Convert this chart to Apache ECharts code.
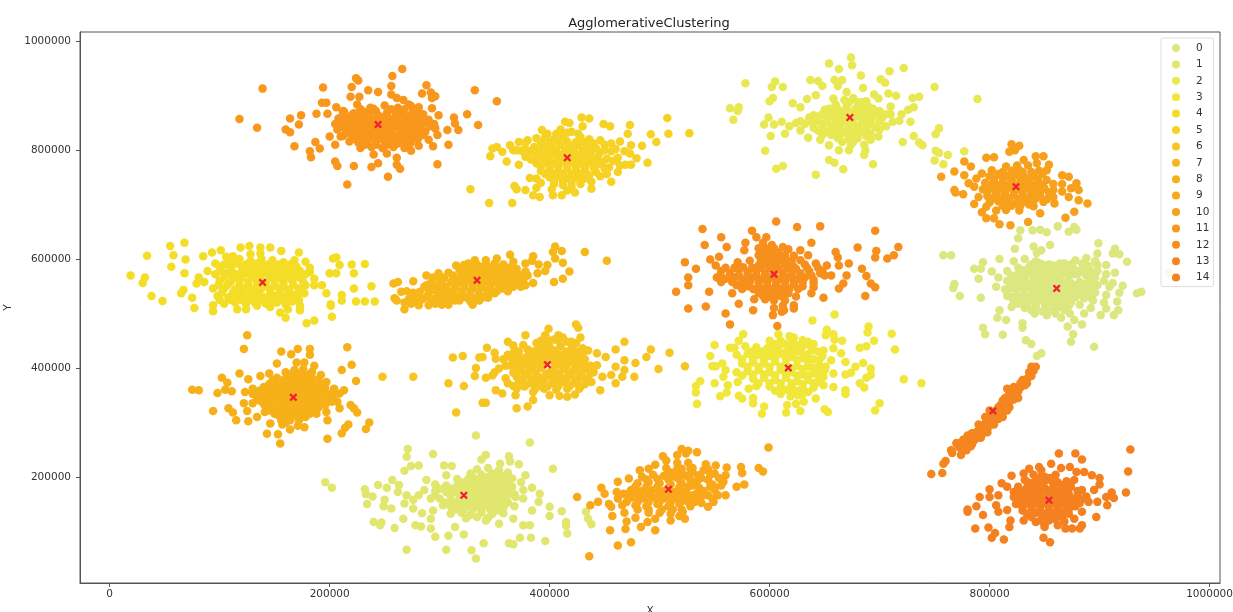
<!DOCTYPE html>
<html><head><meta charset="utf-8">
<script src="https://cdn.jsdelivr.net/npm/echarts@6/dist/echarts.min.js"></script>
<style>html,body{margin:0;padding:0;background:#fff}#c{width:1233px;height:612px}</style></head>
<body><div id="c"></div>
<script>
const cluster0=[[826,638],[828,653],[839,653],[846,654],[852,649],[862,660],[877,659],[872,650],[879,654],[823,619],[840,623],[855,626],[843,611],[847,616],[899,629],[898,610],[914,619],[912,610],[918,609],[925,595],[758,607],[765,607],[809,600],[794,594],[786,582],[792,582],[802,577],[790,564],[808,566],[806,549],[768,554],[767,547],[773,532],[792,529],[934,537],[938,540],[921,551],[909,549],[914,575],[906,589],[898,589],[890,587],[963,575],[809,506],[807,492],[815,488],[794,474],[796,462],[812,461],[830,482],[830,474],[833,451],[838,444],[847,427],[843,422],[871,476],[876,462],[874,448],[895,439],[884,480],[877,488],[865,492],[913,497],[917,506],[901,497],[906,509],[852,497],[841,500],[820,512],[873,500],
[822,596],[832,600],[842,596],[878,598],[888,602],[896,596],[868,592],[858,588],[848,590],[836,586],[826,584],[816,578],[826,572],[836,574],[846,578],[856,576],[866,580],[876,584],[886,584],[898,578],[906,572],[816,560],[824,558],[832,562],[840,564],[848,566],[856,564],[864,568],[872,570],[880,572],[888,570],[896,566],[904,560],[818,546],[826,548],[834,550],[842,552],[850,554],[858,552],[866,554],[874,556],[882,558],[890,556],[898,552],[912,556],[816,532],[824,534],[832,536],[840,538],[848,540],[856,538],[864,540],[872,542],[880,544],[888,542],[896,538],[906,534],[918,538],[822,520],[830,522],[838,524],[846,526],[854,524],[862,526],[870,528],[878,530],[886,528],[894,524],[904,520],[916,522],[832,510],[842,512],[852,510],[862,512],[872,514],[882,516],[892,510],[860,500],[886,500]];
const core0=[[838,590],[846,592],[854,590],[864,592],[874,590],[884,592],[830,580],[841,582],[851,580],[861,582],[871,580],[881,578],[891,580],[820,570],[830,568],[842,570],[851,572],[860,570],[869,574],[877,572],[885,576],[893,570],[822,554],[830,556],[838,554],[846,556],[854,558],[862,556],[870,558],[878,552],[886,554],[894,556],[814,544],[822,546],[830,544],[838,546],[846,544],[854,546],[862,544],[870,546],[878,538],[886,548],[893,546],[820,530],[828,528],[836,530],[844,532],[852,530],[860,532],[868,534],[876,536],[884,534],[892,530],[826,518],[834,516],[842,518],[850,518],[858,520],[866,518],[874,520],[838,506],[848,504],[858,506],[868,506]];
const cluster1=[[333,276],[382,263],[271,251],[270,237],[294,242],[342,240],[363,238],[338,232],[364,228],[355,224],[372,223],[403,215],[304,221],[311,220],[281,221],[274,220],[268,211],[196,190],[202,180],[232,177],[233,168],[239,164],[244,185],[252,180],[257,194],[263,185],[234,150],[249,146],[256,142],[240,117],[246,111],[247,116],[259,106],[267,123],[278,111],[283,109],[268,151],[276,142],[284,133],[292,123],[292,105],[296,90],[270,66],[306,66],[329,65],[333,50],[340,78],[363,78],[367,76],[373,88],[383,88],[396,82],[416,96],[382,111],[376,111],[367,123],[354,114],[342,120],[322,94],[314,108],[308,92],[400,145],[400,128],[411,137],[415,117],[415,110],[433,136],[435,123],[438,113],[391,169],[390,154],[384,138],[384,180],[378,203],[366,197],[366,182],[369,163],[357,154],[358,133],[303,148],[306,203],[288,194],[281,166],[270,166],
[334,214],[344,216],[354,212],[362,208],[328,206],[338,204],[348,206],[356,202],[316,196],[326,196],[334,194],[342,196],[350,194],[358,192],[296,186],[306,184],[316,184],[324,186],[332,184],[340,182],[348,184],[356,182],[362,176],[286,176],[296,174],[306,172],[314,172],[324,174],[332,172],[340,170],[348,172],[356,170],[364,168],[292,160],[300,160],[310,158],[318,160],[326,160],[334,158],[342,160],[350,158],[358,160],[310,146],[318,146],[326,148],[334,146],[342,148],[350,146],[358,144],[368,146],[276,158],[262,172],[250,158],[310,132],[320,134],[328,130],[338,134],[348,132],[294,138],[376,160],[376,176],[374,190]];
const core1=[[330,200],[344,200],[352,200],[360,198],[322,190],[330,190],[338,190],[346,190],[354,188],[362,190],[300,178],[311,178],[319,178],[328,178],[336,178],[344,178],[352,176],[360,178],[296,166],[310,166],[319,166],[328,166],[336,166],[344,164],[352,166],[360,164],[368,168],[304,153],[314,152],[322,153],[330,153],[338,153],[346,153],[354,152],[362,153],[314,140],[322,140],[330,140],[338,140],[346,140],[354,138],[324,124],[334,126],[344,125]];
const cluster2=[[674,970],[654,959],[675,956],[663,949],[683,937],[709,945],[722,951],[578,923],[605,926],[602,916],[612,916],[637,929],[644,927],[648,918],[659,929],[666,929],[662,918],[701,930],[705,924],[750,916],[789,894],[564,877],[572,879],[571,872],[567,856],[603,896],[600,890],[634,894],[595,847],[599,860],[604,847],[611,852],[618,844],[601,826],[614,830],[596,799],[606,766],[612,771],[642,755],[654,782],[659,777],[667,765],[694,774],[686,791],[687,800],[672,800],[663,800],[654,809],[646,819],[635,823],[721,815],[731,826],[736,814],[739,809],[751,829],[754,840],[751,799],[754,795],[762,791],[777,798],[750,781],[758,774],[736,898],[730,896],[715,900],[708,904],[699,895],[731,879],[726,874],[728,852],[718,854],[706,844],[699,825],[692,819],[621,886],[628,879],[642,901],[658,895],[670,907],[685,914],[695,902],
[668,892],[676,896],[684,888],[660,884],[670,880],[680,878],[690,880],[650,874],[658,872],[666,870],[674,868],[682,870],[690,868],[700,872],[710,880],[720,866],[636,860],[644,862],[652,860],[660,858],[668,860],[676,856],[684,858],[692,856],[702,858],[624,850],[632,848],[640,850],[648,848],[656,846],[664,848],[672,846],[680,844],[688,846],[696,842],[644,836],[652,834],[660,836],[668,834],[676,832],[684,834],[692,830],[672,820],[680,822],[662,822],[686,810],[674,810],[628,836],[710,866]];
const core2=[[654,876],[662,876],[670,874],[678,876],[686,876],[694,876],[640,864],[648,866],[656,864],[664,864],[672,862],[680,864],[688,862],[696,864],[706,866],[628,853],[636,853],[644,854],[652,853],[660,852],[668,852],[676,850],[684,852],[692,850],[700,852],[712,852],[640,841],[648,841],[656,840],[664,841],[672,840],[680,838],[688,840],[700,838],[648,828],[656,828],[664,828],[672,826],[680,828],[688,826],[666,815],[676,815],[672,888],[680,888],[688,890]];
const cluster3=[[639,487],[659,498],[576,462],[572,450],[622,456],[652,470],[651,460],[658,462],[659,452],[666,450],[690,476],[689,465],[695,450],[711,463],[714,434],[682,437],[688,440],[658,436],[649,432],[630,451],[635,448],[550,442],[564,437],[568,437],[546,422],[548,403],[551,403],[557,408],[560,396],[558,384],[537,376],[533,367],[533,355],[550,372],[562,368],[561,355],[555,348],[571,374],[581,362],[588,367],[572,349],[575,344],[585,345],[585,335],[534,334],[595,329],[593,316],[616,332],[615,318],[624,334],[628,321],[631,338],[626,350],[619,348],[642,344],[650,324],[653,319],[669,359],[669,352],[658,365],[649,368],[686,364],[682,372],[692,387],[692,399],[685,409],[678,402],[669,388],[674,391],[688,382],[722,379],[738,372],[700,335],[696,322],[665,427],[669,411],[656,414],[651,402],[658,390],[649,384],[642,372],
[608,462],[618,458],[600,450],[610,450],[620,446],[630,440],[640,444],[578,440],[588,438],[598,436],[608,438],[618,434],[628,430],[638,432],[648,422],[570,424],[580,426],[590,424],[600,422],[610,426],[620,420],[630,418],[640,416],[575,408],[585,410],[595,408],[605,412],[615,406],[625,404],[635,402],[645,406],[570,392],[580,394],[590,396],[600,392],[610,396],[620,392],[630,388],[640,390],[585,380],[595,382],[605,378],[615,382],[625,376],[635,378],[645,380],[600,366],[610,364],[620,366],[630,362],[640,364],[610,352],[620,356],[630,352]];
const core3=[[604,444],[614,444],[624,442],[634,444],[584,430],[594,430],[604,430],[614,428],[624,430],[634,424],[644,430],[575,416],[585,416],[595,416],[605,418],[615,416],[625,414],[635,410],[645,414],[580,402],[590,402],[600,402],[610,402],[620,400],[630,398],[640,400],[650,396],[575,386],[585,388],[595,388],[605,386],[615,388],[625,386],[635,386],[645,392],[590,372],[600,372],[610,372],[620,372],[630,370],[640,372],[605,358],[615,360],[625,358],[635,356]];
const cluster4=[[19,570],[32,566],[30,556],[34,606],[55,624],[68,630],[58,607],[69,599],[56,586],[68,574],[38,532],[48,523],[67,543],[65,537],[75,529],[94,515],[79,555],[81,566],[86,558],[89,578],[85,605],[93,612],[101,616],[119,621],[127,624],[137,621],[146,621],[156,615],[172,612],[137,610],[128,609],[106,604],[96,592],[112,605],[178,595],[182,584],[203,601],[206,603],[209,589],[220,590],[232,591],[222,574],[200,574],[206,574],[186,564],[193,552],[197,537],[238,550],[222,546],[211,534],[224,522],[232,522],[241,522],[201,517],[211,524],[77,510],[94,504],[116,508],[124,508],[155,502],[160,492],[173,506],[179,482],[186,487],[202,494],[201,514],[146,512],[134,514],[177,537],[166,522],[173,514],
[108,596],[118,600],[128,596],[138,600],[148,598],[158,594],[168,598],[100,586],[110,584],[120,586],[130,584],[140,588],[150,586],[160,584],[170,586],[96,572],[106,574],[116,572],[124,574],[132,572],[142,574],[150,572],[160,572],[168,574],[178,572],[100,560],[110,558],[118,560],[126,558],[134,560],[142,558],[150,560],[158,558],[166,560],[176,558],[186,552],[94,546],[104,546],[114,544],[122,546],[130,544],[138,546],[146,544],[154,546],[162,544],[172,546],[98,532],[108,530],[116,532],[126,530],[134,532],[142,530],[150,532],[160,530],[168,534],[104,518],[114,520],[124,518],[132,520],[142,518],[152,520],[160,516],[162,508]];
const core4=[[104,590],[114,592],[124,590],[134,592],[144,590],[154,590],[164,590],[101,578],[111,578],[121,578],[128,578],[136,580],[146,578],[155,578],[164,578],[173,578],[182,576],[104,566],[112,566],[120,566],[129,566],[137,566],[146,566],[155,566],[164,566],[172,566],[99,552],[107,552],[118,552],[126,552],[134,552],[142,552],[150,552],[158,552],[167,552],[178,552],[102,538],[112,538],[120,538],[128,538],[136,538],[146,538],[155,538],[164,538],[172,538],[100,525],[110,525],[120,525],[130,525],[138,525],[146,525],[155,525],[164,525],[172,525]];
const cluster5=[[328,728],[345,703],[366,703],[346,789],[348,803],[352,806],[357,797],[361,779],[364,809],[367,800],[372,773],[382,749],[388,748],[388,731],[378,727],[368,734],[370,728],[385,717],[391,714],[403,717],[411,717],[423,722],[438,729],[438,742],[456,742],[393,837],[414,852],[418,850],[429,860],[436,858],[430,844],[449,848],[455,844],[473,846],[471,830],[492,829],[508,830],[507,859],[527,831],[497,815],[484,808],[489,777],[474,809],[474,773],[469,773],[479,785],[473,794],
[372,815],[380,818],[388,822],[396,824],[404,820],[412,826],[420,834],[410,838],[428,824],[436,820],[446,818],[456,812],[464,816],[370,800],[378,802],[386,806],[394,808],[402,806],[410,810],[418,808],[426,810],[434,806],[442,804],[450,800],[460,802],[468,798],[378,788],[388,790],[396,792],[404,794],[412,792],[420,794],[428,792],[436,790],[444,788],[452,784],[462,786],[388,776],[396,778],[404,776],[412,780],[420,778],[428,776],[436,778],[444,774],[454,768],[464,772],[462,760],[392,762],[400,764],[408,762],[416,766],[424,762],[432,764],[442,760],[452,756],[400,750],[408,752],[416,748],[424,750],[432,748],[392,740],[404,738],[412,736],[420,734],[428,738],[402,728],[416,726]];
const core5=[[398,830],[406,830],[416,832],[426,830],[378,814],[392,815],[400,814],[408,815],[416,816],[424,815],[432,814],[440,812],[450,810],[374,799],[382,798],[390,799],[398,800],[406,799],[414,800],[422,800],[430,799],[438,798],[446,796],[456,798],[383,783],[392,784],[400,784],[408,786],[416,784],[424,786],[432,784],[440,782],[448,778],[458,780],[392,770],[400,770],[408,770],[416,772],[424,770],[432,770],[440,768],[450,766],[396,756],[404,756],[412,756],[420,756],[428,756],[436,754],[446,752],[404,744],[412,744],[420,742],[428,744]];
const cluster6=[[424,480],[426,474],[399,472],[378,460],[396,460],[408,460],[362,448],[367,441],[343,437],[428,456],[430,436],[443,427],[451,420],[460,434],[336,419],[339,420],[321,422],[312,419],[333,400],[332,385],[342,382],[348,386],[354,399],[308,372],[322,367],[248,384],[276,384],[315,318],[339,336],[342,336],[370,326],[380,329],[385,341],[351,359],[357,353],[369,350],[370,362],[400,350],[409,349],[416,347],[423,351],[446,359],[438,374],[448,384],[456,387],[460,372],[460,402],[443,405],[432,406],[427,362],[387,362],[360,381],[351,417],[362,424],[378,368],[468,448],[492,434],[488,420],[509,428],[478,409],[468,414],[468,396],[499,398],[523,403],[466,384],[477,384],
[396,458],[404,452],[412,456],[420,448],[388,446],[396,444],[376,442],[368,432],[380,434],[390,436],[400,438],[410,440],[420,436],[430,426],[350,428],[358,416],[370,420],[380,422],[390,424],[400,426],[410,424],[420,422],[432,416],[360,404],[370,408],[380,410],[390,412],[400,414],[410,410],[420,410],[430,412],[372,396],[382,398],[392,400],[402,396],[412,398],[422,396],[432,398],[370,384],[380,386],[390,384],[400,386],[410,384],[420,386],[430,384],[440,392],[350,392],[362,372],[372,374],[382,372],[392,374],[402,372],[412,374],[422,372],[432,370],[385,356],[395,362],[406,360],[416,362]];
const core6=[[392,450],[400,450],[408,450],[416,448],[424,446],[372,430],[385,430],[395,430],[405,432],[415,430],[425,430],[435,432],[365,418],[375,418],[385,416],[395,418],[405,418],[415,416],[425,416],[365,404],[375,404],[385,404],[395,406],[405,404],[415,404],[425,404],[437,404],[367,391],[377,391],[387,391],[397,390],[407,390],[417,391],[427,391],[437,390],[375,379],[385,378],[395,379],[405,378],[415,379],[425,378],[435,378],[367,367],[377,366],[388,366],[398,366],[408,367],[418,366],[428,366]];
const cluster7=[[405,623],[411,615],[403,613],[405,601],[432,613],[452,597],[364,608],[385,605],[384,597],[412,593],[418,577],[412,564],[404,558],[385,556],[398,589],[378,592],[378,577],[389,574],[258,555],[262,558],[265,540],[259,528],[261,524],[268,520],[276,559],[286,549],[276,538],[281,522],[303,522],[288,570],[299,574],[315,588],[322,589],[332,598],[342,598],[352,601],[367,595],[367,549],[374,549],[350,537],[344,529],[328,522],[314,524],[357,546],[296,549],[306,543],[281,537],[268,508],[281,515],[290,515],
[326,592],[334,590],[342,590],[350,592],[358,590],[366,586],[318,580],[326,582],[334,580],[342,582],[350,580],[358,580],[366,578],[374,570],[294,566],[304,566],[312,570],[320,570],[328,570],[336,572],[344,570],[352,570],[360,568],[368,566],[376,562],[390,590],[396,578],[292,556],[302,556],[310,558],[318,558],[326,560],[334,558],[342,560],[350,558],[358,558],[366,556],[282,540],[290,538],[298,536],[306,548],[314,546],[322,548],[330,546],[338,548],[346,546],[354,550],[272,526],[284,526],[294,526],[304,530],[312,534],[320,536],[328,534],[336,536],[344,538],[296,518],[308,516],[318,524],[326,528],[336,524]];
const core7=[[330,585],[338,585],[346,585],[354,585],[362,584],[370,582],[308,575],[322,575],[330,575],[338,575],[346,575],[354,575],[362,573],[370,575],[380,570],[300,564],[316,564],[324,564],[332,564],[340,564],[348,564],[356,564],[364,562],[372,558],[288,552],[298,552],[314,552],[322,552],[330,552],[338,552],[346,552],[354,555],[362,552],[378,552],[270,541],[292,543],[302,541],[312,541],[320,541],[328,541],[336,541],[344,542],[352,541],[362,541],[276,530],[288,530],[300,530],[308,530],[316,530],[324,530],[332,528],[340,530],[274,518],[302,516],[330,516]];
const cluster8=[[125,460],[122,435],[216,438],[220,406],[211,396],[224,376],[156,430],[171,435],[182,435],[165,425],[182,424],[152,408],[118,390],[102,382],[137,385],[126,379],[145,390],[107,373],[75,360],[81,359],[98,354],[105,360],[111,357],[123,356],[122,335],[94,321],[108,326],[112,318],[115,304],[126,302],[134,310],[125,321],[146,298],[143,279],[153,278],[155,261],[164,287],[171,294],[177,291],[157,296],[198,304],[198,270],[211,280],[214,290],[217,296],[236,300],[233,288],[225,318],[222,326],[219,332],[209,326],[197,319],[207,338],[213,359],[209,353],[204,362],[197,374],[192,387],[184,393],[186,404],[177,410],[170,410],[130,362],[130,335],[141,319],[188,316],
[160,392],[168,396],[176,398],[152,382],[160,380],[168,384],[176,386],[184,382],[145,370],[152,370],[160,370],[168,372],[176,372],[184,370],[192,372],[136,358],[144,358],[152,358],[160,358],[168,360],[176,360],[184,358],[192,360],[200,352],[134,346],[142,346],[150,346],[158,348],[166,346],[174,348],[182,346],[190,348],[198,344],[140,334],[148,334],[156,336],[164,334],[172,336],[180,334],[188,336],[196,332],[146,322],[154,324],[162,322],[170,324],[178,322],[186,326],[154,312],[162,310],[170,312],[178,310],[160,300]];
const core8=[[165,388],[173,390],[181,388],[148,377],[156,377],[164,377],[172,378],[180,378],[188,377],[140,365],[148,365],[156,364],[164,365],[172,366],[180,365],[188,365],[196,364],[130,352],[138,352],[146,352],[154,352],[162,352],[170,353],[178,352],[186,352],[194,354],[204,350],[136,340],[144,340],[152,340],[160,340],[168,340],[176,341],[184,340],[192,340],[202,338],[142,328],[150,328],[158,328],[166,328],[174,329],[182,328],[190,328],[150,316],[158,316],[166,316],[174,316],[182,316],[156,304],[164,304],[172,304]];
const cluster9=[[599,254],[590,216],[594,210],[574,218],[575,207],[577,186],[570,182],[561,217],[560,203],[558,191],[560,166],[551,221],[542,223],[534,245],[520,251],[524,243],[503,238],[490,215],[482,212],[549,182],[544,145],[523,123],[510,120],[496,102],[496,123],[474,80],[483,108],[469,104],[489,117],[478,125],[549,154],[532,154],[521,136],[553,166],[535,203],[528,215],[472,197],[467,169],[466,148],[425,163],[436,54],[437,148],[444,154],[447,180],[450,169],[454,150],[457,128],[455,102],[462,191],[461,172],[462,74],
[516,240],[526,248],[506,230],[516,226],[496,222],[506,216],[516,214],[526,226],[540,212],[550,206],[484,200],[494,204],[504,202],[514,200],[524,202],[534,192],[544,194],[480,188],[490,190],[500,188],[510,186],[520,188],[530,184],[540,174],[550,176],[474,176],[484,174],[494,176],[504,174],[514,172],[524,174],[534,170],[544,166],[474,162],[484,160],[494,162],[504,160],[514,160],[524,162],[534,160],[478,148],[488,146],[498,150],[508,146],[518,150],[528,146],[490,134],[500,134],[510,132],[518,128],[468,134],[470,118],[462,160],[456,145]];
const core9=[[520,215],[530,216],[544,214],[510,208],[520,207],[530,208],[546,204],[554,198],[488,195],[498,196],[508,195],[518,194],[528,194],[538,198],[548,186],[478,182],[488,182],[498,182],[508,180],[518,181],[526,182],[536,180],[546,182],[556,184],[470,168],[480,168],[490,168],[500,168],[510,166],[520,168],[530,166],[540,166],[548,160],[470,154],[480,154],[490,154],[500,154],[510,153],[520,155],[526,154],[538,152],[480,140],[490,140],[502,140],[512,140],[520,140]];
const cluster10=[[820,811],[827,808],[818,797],[823,800],[797,786],[804,787],[842,789],[849,789],[831,782],[843,776],[777,779],[783,770],[768,761],[777,754],[756,751],[781,739],[786,733],[768,727],[769,722],[776,719],[790,714],[786,701],[793,686],[797,675],[804,675],[809,664],[819,662],[835,668],[846,684],[869,676],[877,687],[889,702],[881,708],[881,727],[879,739],[872,751],[866,754],[854,773],[852,763],[866,724],[872,714],[859,702],[849,705],[840,697],[827,689],[815,690],[806,689],[797,696],[852,745],[858,727],[802,763],[815,770],[827,763],[838,760],[793,757],[788,748],
[800,752],[808,756],[816,752],[824,756],[832,750],[840,752],[848,756],[796,740],[804,742],[812,740],[820,744],[828,740],[836,742],[844,738],[794,728],[802,730],[810,728],[818,732],[826,728],[834,730],[842,726],[850,730],[798,716],[806,718],[814,716],[822,718],[830,716],[838,718],[846,716],[858,714],[800,704],[808,706],[816,704],[824,702],[832,706],[840,708],[866,738],[874,730]];
const core10=[[804,748],[812,748],[820,748],[828,748],[836,746],[844,746],[800,735],[808,735],[816,735],[824,736],[832,735],[840,735],[848,736],[858,738],[798,723],[806,723],[814,723],[822,724],[830,723],[838,723],[846,722],[854,722],[802,711],[810,711],[818,711],[826,710],[834,711],[842,711],[852,710],[812,698],[820,698],[828,698],[836,700],[812,760],[820,762],[830,760],[845,762],[825,772],[835,772]];
const cluster11=[[139,913],[118,857],[134,841],[164,858],[174,864],[172,847],[160,838],[164,833],[168,807],[182,798],[183,787],[191,803],[187,815],[205,810],[205,779],[207,771],[222,771],[216,737],[238,769],[244,776],[253,751],[261,786],[261,773],[264,766],[298,774],[308,810],[294,807],[335,846],[325,866],[352,890],[332,910],[266,949],[257,936],[224,932],[226,928],[194,915],[220,916],[235,910],[244,907],[256,918],[288,919],[284,904],[292,906],[296,899],[293,896],[219,898],[227,898],[256,902],[188,867],[193,887],[197,887],[198,867],[206,879],[213,871],[200,825],[210,825],[274,881],[281,879],[293,877],[299,864],[313,860],[307,837],[317,837],[314,849],[296,840],[298,828],[290,819],[281,808],[274,799],[267,892],[261,896],
[225,884],[237,878],[250,882],[262,878],[272,884],[212,872],[222,868],[232,870],[242,872],[252,868],[262,870],[275,868],[285,866],[208,858],[216,860],[224,858],[232,860],[240,856],[248,860],[256,856],[264,858],[272,856],[280,860],[290,856],[205,848],[213,850],[221,846],[229,850],[237,848],[245,846],[253,850],[261,846],[269,848],[277,846],[285,850],[295,848],[207,838],[215,836],[223,840],[231,836],[239,840],[247,836],[255,838],[263,840],[271,836],[279,838],[287,834],[212,826],[220,828],[228,826],[236,830],[244,826],[252,828],[260,826],[268,830],[276,826],[285,828],[218,816],[226,814],[234,818],[242,814],[250,816],[258,814],[266,818],[274,814],[228,804],[238,806],[248,804],[258,806],[268,804],[240,792],[252,794]];
const core11=[[212,864],[220,864],[228,864],[236,864],[244,864],[252,862],[260,864],[268,864],[276,862],[284,864],[209,853],[217,853],[225,853],[233,854],[241,853],[249,854],[257,852],[265,853],[273,852],[281,853],[211,843],[219,843],[227,843],[235,843],[243,842],[251,843],[259,843],[267,842],[275,843],[283,842],[291,844],[216,832],[224,832],[232,832],[240,832],[248,832],[256,832],[264,832],[272,832],[280,832],[222,821],[230,821],[238,822],[246,821],[254,821],[262,821],[270,821],[280,820],[228,875],[240,876],[256,875],[268,875],[280,873],[232,810],[242,810],[252,810],[262,812],[272,810]];
const cluster12=[[606,669],[625,659],[646,660],[696,652],[717,622],[713,607],[707,601],[697,615],[696,603],[680,621],[539,655],[556,640],[541,626],[561,622],[584,652],[523,594],[515,540],[526,552],[526,566],[533,582],[545,540],[566,537],[572,518],[542,513],[526,509],[585,506],[588,640],[597,640],[578,630],[590,620],[577,616],[554,604],[546,599],[551,588],[571,594],[617,618],[628,616],[638,630],[635,607],[660,613],[662,603],[672,592],[663,588],[684,582],[688,569],[692,555],[696,548],[687,532],[670,570],[667,555],[663,546],[649,529],[638,537],[624,531],[617,537],[612,537],[622,515],[613,506],[656,570],[642,592],[646,574],[560,500],[603,497],[611,503],[607,477],[564,480],[622,509],
[594,630],[602,626],[592,612],[600,614],[608,612],[596,600],[604,602],[612,600],[620,596],[590,588],[598,590],[606,588],[614,590],[622,586],[632,590],[652,588],[556,578],[564,574],[572,580],[580,576],[588,578],[596,574],[604,578],[612,574],[620,576],[628,574],[636,578],[644,584],[552,566],[560,564],[568,566],[576,562],[584,566],[592,562],[600,566],[608,562],[616,566],[624,562],[632,566],[640,562],[570,552],[580,550],[590,552],[598,550],[606,552],[614,550],[622,554],[630,550],[640,548],[590,538],[598,540],[606,536],[614,524],[604,524],[596,526],[612,514],[604,510],[586,526]];
const core12=[[590,607],[598,607],[606,606],[614,607],[622,606],[582,597],[592,597],[600,596],[608,597],[616,597],[628,598],[560,584],[568,584],[576,585],[584,584],[592,584],[600,584],[608,582],[616,584],[624,582],[634,584],[648,578],[555,570],[564,570],[572,570],[580,570],[588,570],[596,570],[604,570],[612,570],[620,570],[628,570],[638,570],[650,570],[556,558],[566,558],[574,556],[582,558],[590,558],[598,558],[606,558],[614,558],[622,558],[630,558],[640,556],[575,545],[585,545],[594,545],[602,545],[610,545],[618,545],[626,545],[596,620],[604,620],[612,622],[594,532],[602,530],[610,532]];
const cluster13=[[747,205],[757,207],[758,224],[760,229],[765,249],[774,240],[770,261],[779,249],[786,267],[770,262],[774,252],[778,262],[782,268],[784,260],[786,277],[790,272],[790,285],[794,280],[794,292],[798,288],[798,302],[802,296],[802,312],[806,306],[806,322],[810,316],[810,332],[814,326],[814,345],[818,338],[818,354],[822,350],[822,365],[826,357],[828,372],[832,368],[834,380],[838,385],[840,395],[842,402],[838,402],[836,392],[830,378],[812,340],[808,328],[804,318],[800,305],[796,298],[792,290],[788,282],[784,272],[780,276],[776,268],[766,244],[772,255],[783,256],[790,296],[800,322],[796,310],[812,310],[818,328],[822,342],[826,345],[816,362]];
const core13=[[786,270],[788,276],[792,280],[794,286],[796,290],[800,296],[802,304],[804,310],[806,314],[808,320],[810,324],[812,332],[816,334],[816,346],[820,346],[824,358],[828,364],[830,370],[834,372],[836,384],[792,272],[798,282],[804,296],[808,306],[812,318],[816,322],[784,280],[790,280]];
const cluster14=[[863,243],[878,243],[884,232],[856,224],[928,250],[926,210],[924,171],[845,218],[836,215],[865,216],[873,218],[831,206],[847,212],[820,202],[879,209],[886,209],[893,203],[900,198],[900,186],[895,176],[884,176],[877,194],[911,171],[913,161],[906,163],[907,148],[898,154],[897,126],[884,111],[882,105],[875,105],[869,105],[877,123],[862,111],[855,80],[849,88],[818,108],[819,120],[813,85],[802,88],[805,97],[799,107],[787,105],[794,130],[780,140],[780,136],[788,146],[791,163],[800,177],[800,163],[808,166],[811,188],[816,182],[822,172],[806,148],[808,136],[816,139],[831,120],[842,117],[850,108],[834,191],[866,136],[884,136],[890,154],
[840,204],[850,200],[860,204],[832,194],[842,192],[852,194],[862,190],[870,192],[826,182],[834,180],[842,182],[850,180],[858,182],[866,178],[874,182],[824,168],[832,170],[840,168],[848,172],[856,168],[864,170],[872,168],[880,166],[888,164],[826,156],[834,158],[842,156],[850,158],[858,156],[866,158],[874,154],[882,152],[830,144],[838,146],[846,144],[854,146],[862,144],[870,148],[878,146],[834,132],[842,134],[850,132],[858,134],[866,126],[846,120],[854,120],[860,122],[850,112]];
const core14=[[838,188],[848,188],[858,188],[868,186],[828,175],[838,175],[846,175],[854,175],[862,175],[870,175],[880,174],[822,163],[830,163],[838,163],[846,163],[854,163],[862,163],[870,162],[878,160],[886,160],[824,150],[832,150],[840,150],[848,150],[856,150],[864,150],[872,140],[880,156],[830,138],[838,138],[846,138],[854,138],[862,136],[872,132],[838,126],[848,126],[856,126],[868,118],[845,198],[855,198]];
const centers=[[861,546],[322,166],[673,860],[617,400],[139,557],[416,786],[398,406],[334,561],[167,346],[508,177],[824,733],[244,847],[604,572],[803,321],[854,157]];
const clusters=[cluster0.concat(core0),cluster1.concat(core1),cluster2.concat(core2),cluster3.concat(core3),cluster4.concat(core4),cluster5.concat(core5),cluster6.concat(core6),cluster7.concat(core7),cluster8.concat(core8),cluster9.concat(core9),cluster10.concat(core10),cluster11.concat(core11),cluster12.concat(core12),cluster13.concat(core13),cluster14.concat(core14)];
const seriesNames=['0','1','2','3','4','5','6','7','8','9','10','11','12','13','14'];
const xTicks=[0,200000,400000,600000,800000,1000000];
const yTicks=[200000,400000,600000,800000,1000000];
const colors=['#dde77f','#e1e76e','#e8e852','#f0e73a','#f4dd27','#f6d224','#f6c522','#f6b71a','#f6b018','#f8a81a','#f7a01c','#f8971c','#f68f1c','#f5861f','#f48020'];
const toUnits=p=>[p[0]*1000,p[1]*1000];
const tickFont={fontFamily:'DejaVu Sans',fontSize:10.5,color:'#333'};
const series=clusters.map((c,i)=>({name:seriesNames[i],type:'scatter',data:c.map(toUnits),symbolSize:8.5,itemStyle:{color:colors[i],opacity:1},z:2}));
series.push({name:'centers',type:'scatter',z:3,data:centers.map(toUnits),symbol:'path://M2 0L5 3L8 0L10 2L7 5L10 8L8 10L5 7L2 10L0 8L3 5L0 2Z',symbolSize:8,itemStyle:{color:'#ee2233',opacity:1}});
const plain=v=>String(v);
const axisBase={type:'value',splitLine:{show:false},axisLine:{show:true,onZero:false,lineStyle:{color:'#555',width:1}},nameLocation:'middle',nameTextStyle:{fontFamily:'DejaVu Sans',fontSize:10.5,color:'#333'}};
const chart=echarts.init(document.getElementById('c'),null,{renderer:'canvas'});
chart.setOption({animation:false,backgroundColor:'#fff',
 title:{text:'AgglomerativeClustering',left:644,top:12,textAlign:'center',textStyle:{fontFamily:'DejaVu Sans',fontSize:13,fontWeight:'normal',color:'#222'}},
 grid:{left:80,right:13,top:32,bottom:29,show:true,borderColor:'#555',borderWidth:1,backgroundColor:'transparent',outerBoundsMode:'none'},
 xAxis:Object.assign({},axisBase,{min:-27000,max:1009500,name:'X',nameGap:23,
   axisTick:{show:true,length:4,lineStyle:{color:'#555'},customValues:xTicks},
   axisLabel:Object.assign({margin:6,formatter:plain,customValues:xTicks},tickFont)}),
 yAxis:Object.assign({},axisBase,{min:5000,max:1017000,name:'Y',nameGap:56,
   axisTick:{show:true,length:4,lineStyle:{color:'#555'},customValues:yTicks},
   axisLabel:Object.assign({margin:9,formatter:plain,customValues:yTicks},tickFont)}),
 legend:{data:seriesNames,orient:'vertical',left:1161,top:38,padding:[4,4,3,11],itemGap:4.4,itemWidth:30,itemHeight:8,icon:'circle',backgroundColor:'rgba(255,255,255,0.8)',borderColor:'#ddd',borderWidth:1,borderRadius:2,textStyle:{fontFamily:'DejaVu Sans',fontSize:10.5,color:'#333',lineHeight:12,padding:0},selectedMode:false},
 series:series});
</script></body></html>
